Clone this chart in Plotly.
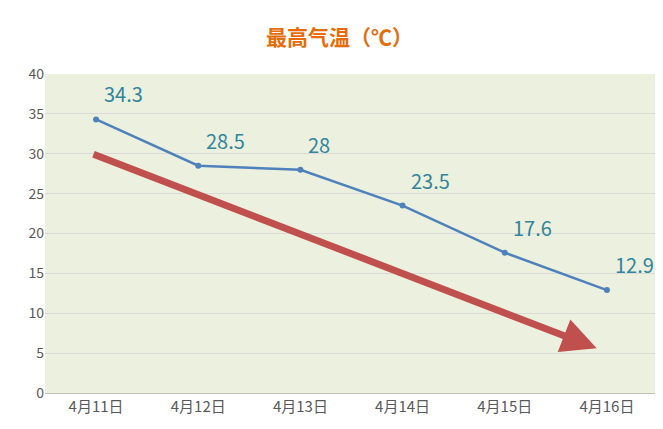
import plotly.graph_objects as go

dates = ["4月11日", "4月12日", "4月13日", "4月14日", "4月15日", "4月16日"]
temps = [34.3, 28.5, 28, 23.5, 17.6, 12.9]
labels = ["34.3", "28.5", "28", "23.5", "17.6", "12.9"]
y_ticks = [0, 5, 10, 15, 20, 25, 30, 35, 40]
arrow_start = (-0.04, 30.0)
arrow_end = (4.9, 5.6)

fig = go.Figure()
fig.add_trace(go.Scatter(x=list(range(len(dates))), y=temps, mode="lines+markers",
                         line=dict(color="#4F81BD", width=2.5),
                         marker=dict(size=6, color="#4F81BD")))
for i, (v, t) in enumerate(zip(temps, labels)):
    fig.add_annotation(x=i, y=v, text=t, showarrow=False, xanchor="left", yanchor="bottom",
                       xshift=6, yshift=9, font=dict(size=20, color="#31859C", family="Noto Sans CJK SC"))
fig.add_annotation(x=arrow_end[0], y=arrow_end[1], ax=arrow_start[0], ay=arrow_start[1],
                   xref="x", yref="y", axref="x", ayref="y", text="", showarrow=True,
                   arrowhead=2, arrowwidth=7, arrowsize=1.0, arrowcolor="#C0504D")
fig.update_layout(
    width=663, height=429, paper_bgcolor="white", plot_bgcolor="#EBF1DE",
    margin=dict(l=37, r=13, t=66, b=44), showlegend=False,
    title=dict(text="<b>最高气温（℃）</b>", x=0.5, y=0.93, xanchor="center", yanchor="middle",
               font=dict(size=21, color="#E46C0A", family="Noto Sans CJK SC")),
    font=dict(family="Noto Sans CJK SC", color="#595959", size=14),
)
fig.update_xaxes(tickmode="array", tickvals=list(range(len(dates))), ticktext=dates,
                 range=[-0.5, 5.5], showgrid=False, showline=True, linecolor="#BFBFBF",
                 zeroline=False, ticks="", tickfont=dict(size=15), automargin=False)
fig.update_yaxes(range=[0, 40], tickvals=y_ticks, gridcolor="#D9D9D9", zeroline=False,
                 tickfont=dict(size=14), ticks="", automargin=False)
fig.write_html("out.html")
